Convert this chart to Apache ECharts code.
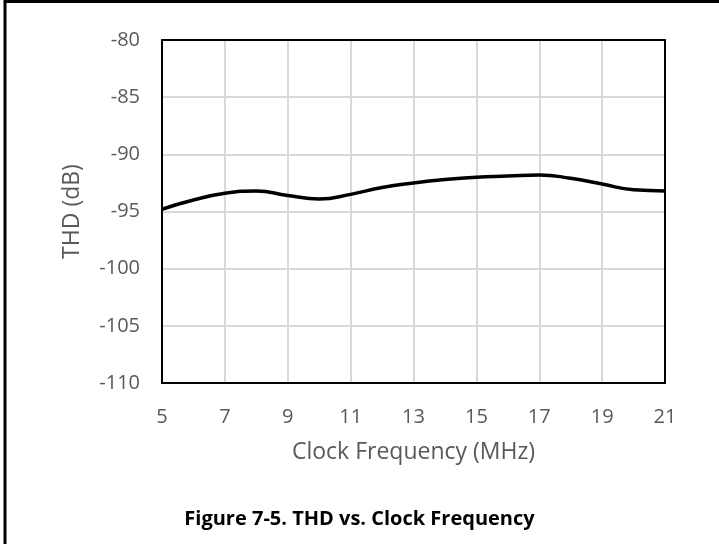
<!DOCTYPE html>
<html>
<head>
<meta charset="utf-8">
<script src="https://cdn.jsdelivr.net/npm/echarts@6/dist/echarts.min.js"></script>
<style>
html,body{margin:0;padding:0;background:#fff;}
#c{width:719px;height:544px;}
</style>
</head>
<body>
<div id="c"></div>
<script>
const freqMHz = [5, 6, 7, 8, 9, 10, 11, 12, 13, 14, 15, 16, 17, 18, 19, 20, 21];
const thdDb = [-94.8, -94.0, -93.4, -93.2, -93.6, -93.9, -93.5, -92.9, -92.5, -92.2, -92.0, -91.9, -91.8, -92.1, -92.6, -93.1, -93.2];
const xTicks = [5, 7, 9, 11, 13, 15, 17, 19, 21];
const yTicks = [-110, -105, -100, -95, -90, -85, -80];
const caption = 'Figure 7-5. THD vs. Clock Frequency';

const chart = echarts.init(document.getElementById('c'), null, {renderer: 'canvas'});
const font = '"Open Sans", "Noto Sans", sans-serif';
const frameAxis = {
  show: true,
  axisLine: {show: true, lineStyle: {color: '#000', width: 2}},
  axisTick: {show: false}, axisLabel: {show: false}, splitLine: {show: false}
};
chart.setOption({
  animation: false,
  backgroundColor: '#fff',
  grid: {left: 162, top: 40, width: 503, height: 343},
  xAxis: [{
    type: 'value', min: xTicks[0], max: xTicks[xTicks.length - 1], interval: 2,
    name: 'Clock Frequency (MHz)', nameLocation: 'middle', nameGap: 58,
    nameTextStyle: {fontFamily: font, fontSize: 23, color: '#595959'},
    axisLine: {show: true, lineStyle: {color: '#000', width: 2}},
    axisTick: {show: false},
    axisLabel: {fontFamily: font, fontSize: 20, color: '#595959', margin: 24},
    splitLine: {show: true, lineStyle: {color: '#d9d9d9', width: 2}},
    z: 3
  }, Object.assign({type: 'value', position: 'top', min: xTicks[0], max: xTicks[xTicks.length - 1], z: 4}, frameAxis)],
  yAxis: [{
    type: 'value', min: yTicks[0], max: yTicks[yTicks.length - 1], interval: 5,
    name: 'THD (dB)', nameLocation: 'middle', nameGap: 78, nameRotate: 90,
    nameTextStyle: {fontFamily: font, fontSize: 23, color: '#595959'},
    axisLine: {show: true, lineStyle: {color: '#000', width: 2}},
    axisTick: {show: false},
    axisLabel: {fontFamily: font, fontSize: 20, color: '#595959', margin: 22},
    splitLine: {show: true, lineStyle: {color: '#d9d9d9', width: 2}},
    z: 3
  }, Object.assign({type: 'value', position: 'right', min: yTicks[0], max: yTicks[yTicks.length - 1], z: 4}, frameAxis)],
  series: [{
    type: 'line', smooth: true, showSymbol: false,
    data: freqMHz.map((f, i) => [f, thdDb[i]]),
    lineStyle: {color: '#000', width: 3.5},
    z: 5
  }],
  graphic: [
    {type: 'line', shape: {x1: 4, y1: 1.5, x2: 719, y2: 1.5}, style: {stroke: '#000', lineWidth: 3}},
    {type: 'line', shape: {x1: 5, y1: 0, x2: 5, y2: 544}, style: {stroke: '#000', lineWidth: 3}},
    {type: 'text', left: 'center', top: 509, style: {text: caption, font: 'bold 20px ' + font, fill: '#000'}}
  ]
});
</script>
</body>
</html>
